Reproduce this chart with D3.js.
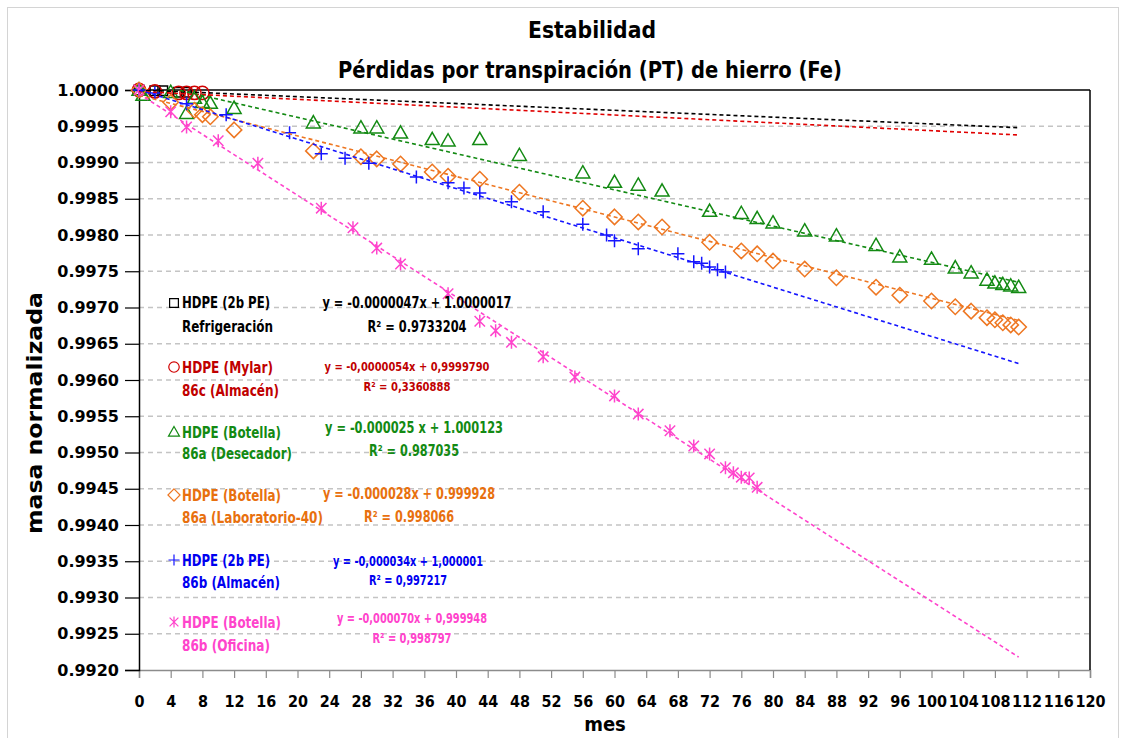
<!DOCTYPE html>
<html>
<head>
<meta charset="utf-8">
<script src="https://cdn.jsdelivr.net/npm/d3@7"></script>
<style>
  body { margin: 0; background: #fff; }
  svg { display: block; }
</style>
</head>
<body>
<div id="chart"></div>
<script>
// ---- data ----
const xTicks = [0, 4, 8, 12, 16, 20, 24, 28, 32, 36, 40, 44, 48, 52, 56, 60, 64, 68, 72, 76, 80, 84, 88, 92, 96, 100, 104, 108, 112, 116, 120];
const yTicks = [0.9920, 0.9925, 0.9930, 0.9935, 0.9940, 0.9945, 0.9950, 0.9955, 0.9960, 0.9965, 0.9970, 0.9975, 0.9980, 0.9985, 0.9990, 0.9995, 1.0000];

// HDPE (2b PE) Refrigeración
const refrigMes = [0, 2, 3, 5, 6];
const refrigMasa = [1.00000, 0.99999, 0.99999, 0.99997, 0.99997];

// HDPE (Mylar) 86c Almacén
const mylarMes = [0, 2, 5, 6, 7, 8];
const mylarMasa = [1.00000, 0.99998, 0.99996, 0.99996, 0.99996, 0.99996];

// HDPE (Botella) 86a Desecador
const desecMes = [0, 0.5, 4, 6, 7, 8, 9, 12, 22, 28, 30, 33, 37, 39, 43, 48, 56, 60, 63, 66, 72, 76, 78, 80, 84, 88, 93, 96, 100, 103, 105, 107, 108, 109, 110, 111];
const desecMasa = [1.00000, 0.99993, 0.99997, 0.99968, 0.99989, 0.99983, 0.99982, 0.99975, 0.99955, 0.99948, 0.99948, 0.99941, 0.99932, 0.99930, 0.99932, 0.99910, 0.99886, 0.99873, 0.99869, 0.99861, 0.99833, 0.99830, 0.99823, 0.99817, 0.99806, 0.99799, 0.99786, 0.99770, 0.99767, 0.99755, 0.99748, 0.99738, 0.99734, 0.99732, 0.99730, 0.99728];

// HDPE (Botella) 86a Laboratorio-40
const laboMes = [0, 4, 7, 8, 9, 12, 22, 28, 30, 33, 37, 39, 43, 48, 56, 60, 63, 66, 72, 76, 78, 80, 84, 88, 93, 96, 100, 103, 105, 107, 108, 109, 110, 111];
const laboMasa = [1.00000, 0.99983, 0.99972, 0.99966, 0.99963, 0.99945, 0.99916, 0.99908, 0.99905, 0.99898, 0.99887, 0.99881, 0.99877, 0.99859, 0.99837, 0.99825, 0.99818, 0.99811, 0.99790, 0.99778, 0.99774, 0.99764, 0.99753, 0.99741, 0.99728, 0.99717, 0.99709, 0.99701, 0.99695, 0.99686, 0.99683, 0.99679, 0.99676, 0.99673];

// HDPE (2b PE) 86b Almacén
const almacenMes = [0, 2, 6, 11, 19, 23, 26, 29, 35, 39, 41, 43, 47, 51, 56, 59, 60, 63, 68, 70, 71, 72, 73, 74];
const almacenMasa = [1.00000, 0.99996, 0.99981, 0.99966, 0.99941, 0.99912, 0.99906, 0.99899, 0.99880, 0.99872, 0.99865, 0.99858, 0.99846, 0.99832, 0.99815, 0.99800, 0.99792, 0.99781, 0.99774, 0.99763, 0.99761, 0.99756, 0.99752, 0.99749];

// HDPE (Botella) 86b Oficina
const oficinaMes = [0, 4, 6, 10, 15, 23, 27, 30, 33, 39, 43, 45, 47, 51, 55, 60, 63, 67, 70, 72, 74, 75, 76, 77, 78];
const oficinaMasa = [1.00000, 0.99970, 0.99949, 0.99930, 0.99899, 0.99837, 0.99810, 0.99782, 0.99760, 0.99719, 0.99681, 0.99668, 0.99652, 0.99632, 0.99604, 0.99578, 0.99553, 0.99530, 0.99509, 0.99498, 0.99479, 0.99472, 0.99466, 0.99465, 0.99452];

// trendlines (as printed on the chart)
const slopes = [-0.0000047, -0.0000054, -0.000025, -0.000028, -0.000034, -0.000070];
const intercepts = [1.0000017, 0.9999790, 1.000123, 0.999928, 1.000001, 0.999948];
const trendEnd = 111;

const names1 = ["HDPE (2b PE)", "HDPE (Mylar)", "HDPE (Botella)", "HDPE (Botella)", "HDPE (2b PE)", "HDPE (Botella)"];
const names2 = ["Refrigeración", "86c (Almacén)", "86a (Desecador)", "86a (Laboratorio-40)", "86b (Almacén)", "86b (Oficina)"];
const equations = ["y = -0.0000047x + 1.0000017", "y = -0,0000054x + 0,9999790", "y = -0.000025 x + 1.000123", "y = -0.000028x + 0.999928", "y = -0,000034x + 1,000001", "y = -0,000070x + 0,999948"];
const r2s = ["R² = 0.9733204", "R² = 0,3360888", "R² = 0.987035", "R² = 0.998066", "R² = 0,997217", "R² = 0,998797"];

// ---- styling / layout ----
const width = 1125, height = 738;
const plot = { left: 139, right: 1090, top: 90, bottom: 670 };
const narrow = "'Liberation Sans Narrow', 'DejaVu Sans Condensed', 'Arial Narrow', sans-serif";
const wide = "'DejaVu Sans', Verdana, sans-serif";

const series = [
  { mes: refrigMes, masa: refrigMasa, shape: "square", color: "#000000", text: "#000000", line: "#000000" },
  { mes: mylarMes, masa: mylarMasa, shape: "circle", color: "#d00000", text: "#c00000", line: "#e00000" },
  { mes: desecMes, masa: desecMasa, shape: "triangle", color: "#138a13", text: "#138a13", line: "#138a13" },
  { mes: laboMes, masa: laboMasa, shape: "diamond", color: "#ee7722", text: "#e8700e", line: "#ee7722" },
  { mes: almacenMes, masa: almacenMasa, shape: "plus", color: "#1515ff", text: "#0000f0", line: "#1515ff" },
  { mes: oficinaMes, masa: oficinaMasa, shape: "star", color: "#ff44cc", text: "#ff44cc", line: "#ff44cc" }
];

// legend text positions (vertical centres), equation centre x, font sizes and widths
const legendLayout = [
  { y1: 303, y2: 327, ey: 303, ry: 327, ex: 417, es: 15, ew: 189, rw: 99, ns: 15, w1: 88, w2: 91 },
  { y1: 367, y2: 390, ey: 366, ry: 386, ex: 407, es: 13, ew: 165, rw: 87, ns: 16, w1: 91, w2: 97 },
  { y1: 432, y2: 453, ey: 427, ry: 450, ex: 414, es: 16, ew: 178, rw: 90, ns: 16, w1: 99, w2: 110 },
  { y1: 495, y2: 517, ey: 493, ry: 516, ex: 409, es: 16, ew: 172, rw: 90, ns: 16, w1: 99, w2: 141 },
  { y1: 560, y2: 582, ey: 561, ry: 580, ex: 408, es: 14, ew: 150, rw: 78, ns: 16, w1: 88, w2: 98 },
  { y1: 622, y2: 645, ey: 618, ry: 638, ex: 412, es: 14, ew: 150, rw: 79, ns: 16, w1: 99, w2: 88 }
];

function markerPath(shape, s) {
  const p = d3.path();
  if (shape === "square") {
    p.rect(-s * 0.8, -s * 0.8, s * 1.6, s * 1.6);
  } else if (shape === "circle") {
    p.arc(0, 0, s * 0.95, 0, 2 * Math.PI);
  } else if (shape === "triangle") {
    p.moveTo(0, -s); p.lineTo(s, s * 0.75); p.lineTo(-s, s * 0.75); p.closePath();
  } else if (shape === "diamond") {
    p.moveTo(0, -s * 1.1); p.lineTo(s * 1.1, 0); p.lineTo(0, s * 1.1); p.lineTo(-s * 1.1, 0); p.closePath();
  } else if (shape === "plus") {
    p.moveTo(-s, 0); p.lineTo(s, 0); p.moveTo(0, -s); p.lineTo(0, s);
  } else if (shape === "star") {
    const d = s * 0.8;
    p.moveTo(-d, -d); p.lineTo(d, d); p.moveTo(d, -d); p.lineTo(-d, d);
    p.moveTo(0, -s); p.lineTo(0, s);
  }
  return p.toString();
}

const svg = d3.select("#chart").append("svg")
  .attr("width", width)
  .attr("height", height);

// outer chart frame
svg.append("rect")
  .attr("x", 7.5).attr("y", 7.5)
  .attr("width", 1111).attr("height", 740)
  .attr("fill", "#fff")
  .attr("stroke", "#d4d4d4")
  .attr("stroke-width", 1);

const x = d3.scaleLinear().domain([0, 120]).range([plot.left, plot.right]);
const y = d3.scaleLinear().domain([0.992, 1.0]).range([plot.bottom, plot.top]);

// gridlines
svg.append("g")
  .selectAll("line")
  .data(yTicks.filter(d => d > 0.992 && d < 1.0))
  .enter()
  .append("line")
    .attr("x1", plot.left).attr("x2", plot.right)
    .attr("y1", d => y(d)).attr("y2", d => y(d))
    .attr("stroke", "#c4c4c4")
    .attr("stroke-width", 1.5)
    .attr("stroke-dasharray", "5,4");

// x axis
const xAxis = d3.axisBottom(x)
  .tickValues(xTicks)
  .tickSize(8)
  .tickFormat(d3.format("d"));

const gx = svg.append("g")
  .attr("transform", "translate(0," + plot.bottom + ")")
  .call(xAxis);
gx.select(".domain").attr("stroke", "#8c8c8c").attr("stroke-width", 1.5);
gx.selectAll(".tick line").attr("stroke", "#8c8c8c").attr("stroke-width", 1.2);
gx.selectAll(".tick text")
  .attr("y", 26)
  .attr("font-family", narrow)
  .attr("font-weight", "bold")
  .attr("font-size", 16)
  .attr("fill", "#000");

// y axis
const yAxis = d3.axisLeft(y)
  .tickValues(yTicks)
  .tickSize(14)
  .tickFormat(d3.format(".4f"));

const gy = svg.append("g")
  .attr("transform", "translate(" + plot.left + ",0)")
  .call(yAxis);
gy.select(".domain").attr("stroke", "#000").attr("stroke-width", 1.5);
gy.selectAll(".tick line").attr("stroke", "#000").attr("stroke-width", 1.2);
gy.selectAll(".tick text")
  .attr("x", -20)
  .attr("font-family", wide)
  .attr("font-weight", "bold")
  .attr("font-size", 16)
  .attr("fill", "#000");

// top and right border of the plot area
svg.append("line")
  .attr("x1", plot.left).attr("x2", plot.right)
  .attr("y1", plot.top).attr("y2", plot.top)
  .attr("stroke", "#000").attr("stroke-width", 1.5);
svg.append("line")
  .attr("x1", plot.right).attr("x2", plot.right)
  .attr("y1", plot.top).attr("y2", plot.bottom)
  .attr("stroke", "#000").attr("stroke-width", 1.5);

// clip for trendlines
svg.append("clipPath").attr("id", "plotclip")
  .append("rect")
    .attr("x", plot.left).attr("y", plot.top)
    .attr("width", plot.right - plot.left)
    .attr("height", plot.bottom - plot.top);

// markers
series.forEach((s, i) => {
  const pts = s.mes.map((m, j) => [m, s.masa[j]]);
  const sz = { square: 6, circle: 7, triangle: 7, diamond: 7, plus: 6.5, star: 6.5 }[s.shape];
  svg.append("g")
    .attr("class", "series-" + i)
    .selectAll("path")
    .data(pts)
    .enter()
    .append("path")
      .attr("transform", d => "translate(" + x(d[0]) + "," + y(d[1]) + ")")
      .attr("d", markerPath(s.shape, sz))
      .attr("fill", "none")
      .attr("stroke", s.color)
      .attr("stroke-width", 1.5);
});

// trendlines
series.forEach((s, i) => {
  svg.append("line")
    .attr("clip-path", "url(#plotclip)")
    .attr("x1", x(0)).attr("y1", y(intercepts[i]))
    .attr("x2", x(trendEnd)).attr("y2", y(intercepts[i] + slopes[i] * trendEnd))
    .attr("stroke", s.line)
    .attr("stroke-width", 1.6)
    .attr("stroke-dasharray", "4,3");
});

// legend / equations block
const leg = svg.append("g");
function legText(tx, ty, str, size, color, len, anchor) {
  leg.append("text")
    .attr("x", tx).attr("y", ty)
    .attr("dy", "0.35em")
    .attr("text-anchor", anchor)
    .attr("font-family", narrow)
    .attr("font-weight", "bold")
    .attr("font-size", size)
    .attr("fill", color)
    .attr("textLength", len)
    .attr("lengthAdjust", "spacingAndGlyphs")
    .text(str);
}
series.forEach((s, i) => {
  const L = legendLayout[i];
  leg.append("path")
    .attr("transform", "translate(174," + L.y1 + ")")
    .attr("d", markerPath(s.shape, 5.5))
    .attr("fill", "none")
    .attr("stroke", s.color)
    .attr("stroke-width", 1.2);
  legText(182, L.y1, names1[i], L.ns, s.text, L.w1, "start");
  legText(182, L.y2, names2[i], L.ns, s.text, L.w2, "start");
  legText(L.ex, L.ey, equations[i], L.es, s.text, L.ew, "middle");
  legText(L.ex, L.ry, r2s[i], L.es, s.text, L.rw, "middle");
});

// titles
svg.append("text")
  .attr("x", 592).attr("y", 38)
  .attr("text-anchor", "middle")
  .attr("font-family", narrow)
  .attr("font-weight", "bold")
  .attr("font-size", 23)
  .attr("textLength", 128)
  .attr("lengthAdjust", "spacingAndGlyphs")
  .text("Estabilidad");
svg.append("text")
  .attr("x", 590).attr("y", 78)
  .attr("text-anchor", "middle")
  .attr("font-family", narrow)
  .attr("font-weight", "bold")
  .attr("font-size", 23)
  .attr("textLength", 504)
  .attr("lengthAdjust", "spacingAndGlyphs")
  .text("Pérdidas por transpiración (PT) de hierro (Fe)");

// axis titles
svg.append("text")
  .attr("x", 605).attr("y", 731)
  .attr("text-anchor", "middle")
  .attr("font-family", narrow)
  .attr("font-weight", "bold")
  .attr("font-size", 20)
  .text("mes");
svg.append("text")
  .attr("transform", "translate(42,413) rotate(-90)")
  .attr("text-anchor", "middle")
  .attr("font-family", wide)
  .attr("font-weight", "bold")
  .attr("font-size", 22)
  .attr("textLength", 242)
  .attr("lengthAdjust", "spacingAndGlyphs")
  .text("masa normalizada");
</script>
</body>
</html>
